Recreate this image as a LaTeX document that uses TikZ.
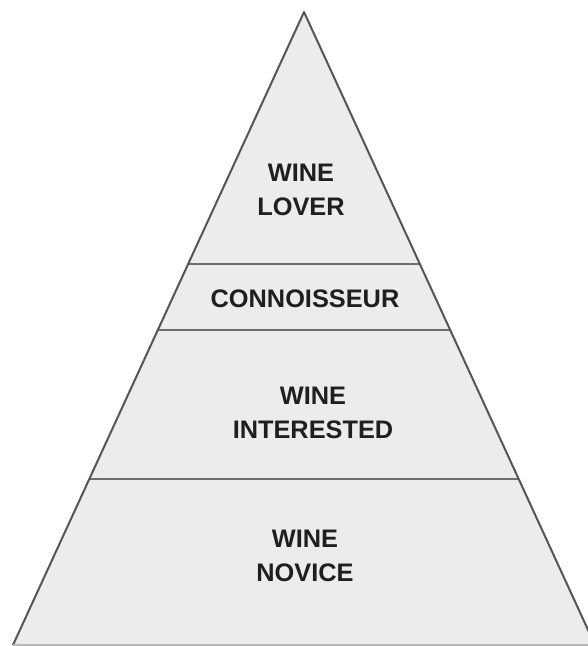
\documentclass[tikz,border=0pt]{standalone}
\usepackage{fontspec}
\setmainfont{Liberation Sans}
\usetikzlibrary{calc}
\definecolor{pyrfill}{HTML}{ECECEC}
\definecolor{pyrline}{HTML}{555555}
\begin{document}
\begin{tikzpicture}[x=0.75pt,y=-0.75pt,
    tier/.style={font=\bfseries\fontsize{19pt}{25pt}\selectfont,align=center,text=black!88,inner sep=0pt}]
  \useasboundingbox (0,0) rectangle (588,646);
  \clip (0,0) rectangle (588,646);
  \coordinate (top) at (304,12);
  \coordinate (bl) at (13,645);
  \coordinate (br) at (595,645);
  \fill[pyrfill] (top) -- (bl) -- (br) -- cycle;
  \foreach \t in {0.398,0.502,0.738}
    \draw[pyrline!85,line width=1.5pt] ($(top)!\t!(bl)$) -- ($(top)!\t!(br)$);
  \draw[pyrline,line width=1.5pt,line join=round] (bl) -- (top) -- (br);
  \draw[gray!55,line width=1pt] (bl) -- (br);
  \node[tier] (lover) at (301,190) {WINE\\LOVER};
  \node[tier] (conn) at (305,299) {CONNOISSEUR};
  \node[tier] (inter) at (313,413) {WINE\\INTERESTED};
  \node[tier] (novice) at (305,556) {WINE\\NOVICE};
\end{tikzpicture}
\end{document}
